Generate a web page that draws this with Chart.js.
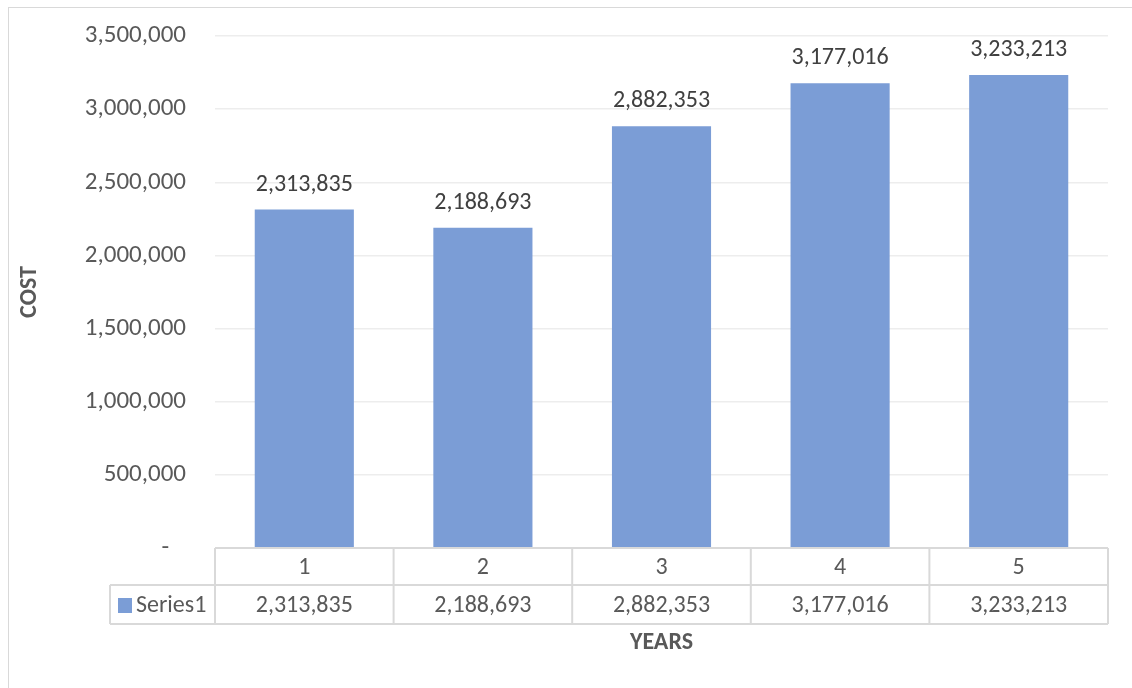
<!DOCTYPE html>
<html>
<head>
<meta charset="utf-8">
<script src="https://cdn.jsdelivr.net/npm/chart.js@4/dist/chart.umd.min.js"></script>
<style>
  html, body { margin: 0; padding: 0; background: #fff; overflow: hidden; }
  #wrap { position: relative; width: 1132px; height: 688px; }
  #frame { position: absolute; left: 8px; top: 7px; width: 1200px; height: 800px; border: 1px solid #d9d9d9; }
  #chart { position: absolute; left: 0; top: 0; }
</style>
</head>
<body>
<div id="wrap">
  <div id="frame"></div>
  <canvas id="chart" width="1132" height="688"></canvas>
</div>
<script>
const years = ["1", "2", "3", "4", "5"];
const costs = [2313835, 2188693, 2882353, 3177016, 3233213];
const seriesName = "Series1";

const FONT = "Calibri, Carlito, Lato, sans-serif";
const barColor = "#7b9dd6";
const lineColor = "#d9d9d9";
const textColor = "#595959";

const fmt = (v) => v === 0 ? "-   " : v.toLocaleString("en-US");

// value labels above the bars + the data table under the x axis
const extras = {
  id: "extras",
  afterDatasetsDraw(chart) {
    const ctx = chart.ctx;
    const meta = chart.getDatasetMeta(0);
    const x = chart.scales.x;
    const area = chart.chartArea;

    ctx.save();
    ctx.font = "24px " + FONT;
    ctx.textAlign = "center";
    ctx.textBaseline = "middle";
    ctx.fillStyle = "#404040";
    meta.data.forEach((bar, i) => {
      ctx.fillText(fmt(costs[i]), bar.x, bar.y - 25);
    });

    // table
    const row1 = area.bottom;
    const row2 = row1 + 37;
    const row3 = row2 + 39;
    const colW = (area.right - area.left) / years.length;
    const tableLeft = 110;

    ctx.strokeStyle = lineColor;
    ctx.lineWidth = 2;
    ctx.beginPath();
    ctx.moveTo(area.left, row1); ctx.lineTo(area.right, row1);
    ctx.moveTo(tableLeft, row2); ctx.lineTo(area.right, row2);
    ctx.moveTo(tableLeft, row3); ctx.lineTo(area.right, row3);
    ctx.moveTo(tableLeft, row2); ctx.lineTo(tableLeft, row3);
    for (let i = 0; i <= years.length; i++) {
      const cx = area.left + i * colW;
      ctx.moveTo(cx, row1); ctx.lineTo(cx, row3);
    }
    ctx.stroke();

    ctx.fillStyle = textColor;
    years.forEach((y, i) => {
      const cx = x.getPixelForTick(i);
      ctx.fillText(y, cx, (row1 + row2) / 2 + 1);
      ctx.fillText(fmt(costs[i]), cx, (row2 + row3) / 2 + 1);
    });

    ctx.fillStyle = barColor;
    ctx.fillRect(118, 598, 14, 15);
    ctx.fillStyle = textColor;
    ctx.textAlign = "left";
    ctx.fillText(seriesName, 136, (row2 + row3) / 2 + 1);
    ctx.restore();
  }
};

new Chart(document.getElementById("chart"), {
  type: "bar",
  data: {
    labels: years,
    datasets: [{
      label: seriesName,
      data: costs,
      backgroundColor: barColor,
      barPercentage: 0.555,
      categoryPercentage: 1
    }]
  },
  options: {
    responsive: false,
    animation: false,
    layout: { padding: { top: 36, right: 24, left: 0, bottom: 0 } },
    plugins: {
      legend: { display: false },
      tooltip: { enabled: false }
    },
    scales: {
      x: {
        grid: { display: false },
        border: { display: false },
        ticks: { display: false },
        title: {
          display: true,
          text: "YEARS",
          color: textColor,
          font: { family: FONT, size: 24, weight: "bold" },
          padding: { top: 0, bottom: 31 }
        },
        afterFit(scale) { scale.height = 140; }
      },
      y: {
        min: 0,
        max: 3500000,
        ticks: {
          stepSize: 500000,
          padding: 29,
          color: textColor,
          font: { family: FONT, size: 25 },
          callback: (v) => fmt(v)
        },
        grid: { color: "#ededed", lineWidth: 1.5, drawTicks: false },
        border: { display: false },
        title: {
          display: true,
          text: "COST",
          color: textColor,
          font: { family: FONT, size: 24, weight: "bold" },
          padding: { top: 16, bottom: 0 }
        },
        afterFit(scale) {
          scale.width = 215;
          scale.paddingTop = 0;
          scale.paddingBottom = 0;
        }
      }
    }
  },
  plugins: [extras]
});
</script>
</body>
</html>
